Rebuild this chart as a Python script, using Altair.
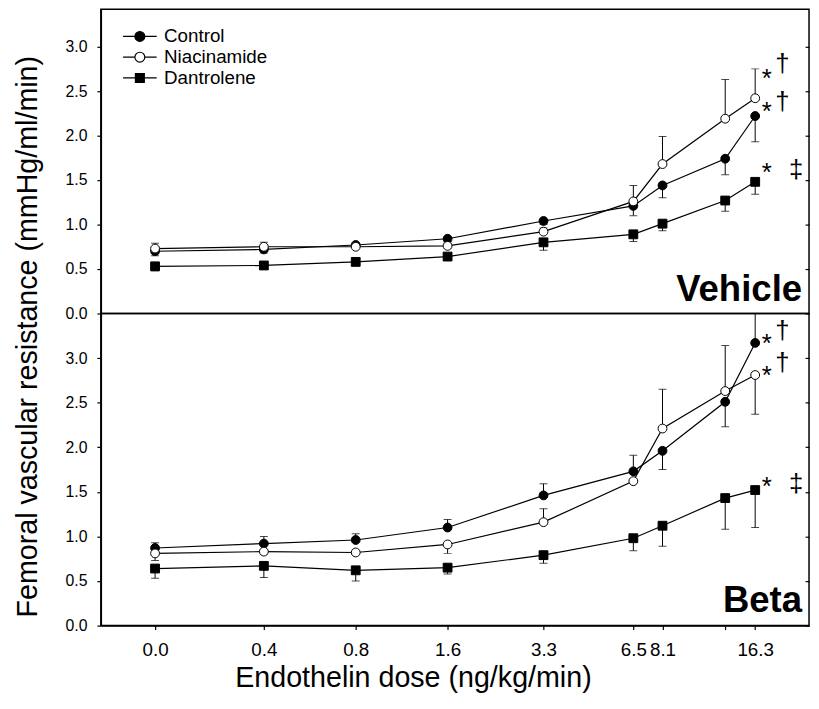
import altair as alt
import pandas as pd

# ---------------- data ----------------
doses = [0.0, 0.4, 0.8, 1.6, 3.3, 6.5, 8.1, 13.0, 16.3]
tick_doses = [0.176, 0.4, 0.8, 1.6, 3.3, 6.5, 8.1, 13.0, 16.3]
groups = ["Control", "Niacinamide", "Dantrolene"]

# Vehicle panel (means and error-bar end values)
veh_control = [0.70, 0.72, 0.77, 0.84, 1.04, 1.21, 1.44, 1.74, 2.22]
veh_control_err = [0.65, 0.68, 0.74, 0.81, 1.00, 1.10, 1.30, 1.56, 1.93]
veh_niacin = [0.73, 0.75, 0.75, 0.76, 0.92, 1.26, 1.68, 2.19, 2.42]
veh_niacin_err = [0.79, 0.80, 0.79, 0.79, 0.96, 1.44, 1.99, 2.63, 2.75]
veh_dantro = [0.53, 0.54, 0.58, 0.64, 0.80, 0.89, 1.01, 1.27, 1.48]
veh_dantro_err = [0.48, 0.50, 0.55, 0.60, 0.71, 0.81, 0.93, 1.15, 1.34]

# Beta panel
beta_control = [0.87, 0.92, 0.96, 1.10, 1.46, 1.73, 1.96, 2.51, 3.17]
beta_control_err = [0.93, 1.00, 1.03, 1.19, 1.59, 1.91, 1.75, 2.23, 3.80]
beta_niacin = [0.81, 0.83, 0.82, 0.91, 1.16, 1.62, 2.21, 2.63, 2.81]
beta_niacin_err = [0.73, 0.80, 0.80, 0.81, 1.31, 1.62, 2.65, 3.14, 2.37]
beta_dantro = [0.64, 0.67, 0.62, 0.65, 0.79, 0.98, 1.12, 1.43, 1.52]
beta_dantro_err = [0.53, 0.54, 0.50, 0.58, 0.70, 0.84, 0.89, 1.08, 1.10]

# significance marks next to the last dose
ann_text = ["*", "\u2020", "*", "\u2020", "*", "\u2021"]
ann_x = [17.8, 20.0, 17.8, 20.0, 17.8, 22.2]
veh_ann_y = [2.55, 2.71, 2.17, 2.29, 1.49, 1.52]
beta_ann_y = [3.07, 3.21, 2.71, 2.85, 1.46, 1.50]

FONT = "Liberation Sans"


def long_df(ctrl, ctrl_e, nia, nia_e, dan, dan_e):
    rows = []
    for g, m, e in [("Control", ctrl, ctrl_e), ("Niacinamide", nia, nia_e),
                    ("Dantrolene", dan, dan_e)]:
        for d, mv, ev in zip(doses, m, e):
            rows.append({"group": g, "dose": d, "mean": mv, "err": ev})
    return pd.DataFrame(rows)


veh_df = long_df(veh_control, veh_control_err, veh_niacin, veh_niacin_err,
                 veh_dantro, veh_dantro_err)
beta_df = long_df(beta_control, beta_control_err, beta_niacin, beta_niacin_err,
                  beta_dantro, beta_dantro_err)
veh_ann = pd.DataFrame({"t": ann_text, "ax": ann_x, "ay": veh_ann_y})
beta_ann = pd.DataFrame({"t": ann_text, "ax": ann_x, "ay": beta_ann_y})
legend_df = pd.DataFrame({"group": groups})

xscale = alt.Scale(type="log", base=2, domain=[0.1169, 24.47], nice=False)

circ = ("M-2.833,0L-0.833,0M0.833,0L2.833,0"
        "M0.833,0A0.833,0.833,0,1,1,-0.833,0A0.833,0.833,0,1,1,0.833,0Z")
sq = ("M-2.833,0L-0.75,0M0.75,0L2.833,0"
      "M-0.75,-0.75L0.75,-0.75L0.75,0.75L-0.75,0.75Z")


def panel(df, ann, top, h, label, label_y, bottom, with_legend):
    if bottom:
        xaxis = alt.Axis(values=tick_doses,
                         labelExpr="datum.value < 0.2 ? '0.0' : (datum.value > 12 && datum.value < 14 ? '' : format(datum.value, '.1f'))",
                         tickSize=4, labelPadding=11, labelFontSize=19,
                         labelOverlap=False, labelBound=False, labelFlush=False,
                         title="Endothelin dose (ng/kg/min)", titleFontSize=29,
                         titleFontWeight="normal", titleX=316, titleY=62,
                         titleBaseline="alphabetic", titleAlign="center")
    else:
        xaxis = None
    X = alt.X("xpos:Q", scale=xscale, axis=xaxis)
    yscale = alt.Scale(domain=[0, top], nice=False, zero=False)
    left_axis = alt.Axis(values=[0, 0.5, 1.0, 1.5, 2.0, 2.5, 3.0], format=".1f",
                         tickSize=4, labelPadding=10, labelFontSize=16,
                         title=("Femoral vascular resistance (mmHg/ml/min)" if not bottom else None),
                         titleFontSize=29, titleFontWeight="normal",
                         titleAngle=-90, titleX=-59, titleY=331,
                         titleAlign="center", titleBaseline="bottom")
    right_axis = alt.Axis(orient="right", values=[0, 0.5, 1.0, 1.5, 2.0, 2.5, 3.0],
                          labels=False, tickSize=4, offset=-4, domain=False, title=None)

    base = alt.Chart(df).transform_calculate(
        xpos="datum.dose == 0 ? 0.176 : datum.dose")

    rules = base.mark_rule(color="black", strokeWidth=1, clip=True).encode(
        x=X, y=alt.Y("mean:Q", scale=yscale, axis=left_axis), y2="err:Q")
    caps = base.mark_tick(color="black", orient="horizontal", size=8,
                          thickness=1, clip=True).encode(
        x=X, y=alt.Y("err:Q", scale=yscale, axis=None))
    lines = base.mark_line(color="black", strokeWidth=1.2).encode(
        x=X, y=alt.Y("mean:Q", scale=yscale, axis=right_axis),
        detail="group:N", order="dose:Q")

    points = base.mark_point(filled=True, size=80, stroke="black",
                             strokeWidth=1, opacity=1).encode(
        x=X, y=alt.Y("mean:Q", scale=yscale, axis=None),
        shape=alt.Shape("group:N", scale=alt.Scale(domain=groups, range=["circle", "circle", "square"]), legend=None),
        fill=alt.Fill("group:N", scale=alt.Scale(domain=groups, range=["black", "white", "black"]), legend=None))

    anns = alt.Chart(ann).mark_text(fontSize=26, font=FONT, color="black",
                                    align="center", baseline="alphabetic").encode(
        x=alt.X("ax:Q", scale=xscale, axis=xaxis),
        y=alt.Y("ay:Q", scale=yscale, axis=None), text="t:N")

    lab = alt.Chart(pd.DataFrame({"t": [label]})).mark_text(
        fontSize=37, font=FONT, fontWeight="bold", align="right",
        baseline="alphabetic", color="black").encode(
        x=alt.value(710), y=alt.value(label_y), text="t:N")

    layers = [rules, caps, lines, points, anns, lab]
    if with_legend:
        leg = alt.Legend(
            title=None, orient="none", legendX=30, legendY=18, padding=0,
            labelFontSize=19, labelFont=FONT, labelOffset=15, symbolSize=144,
            rowPadding=1, labelColor="black", symbolStrokeColor="black",
            symbolStrokeWidth=1.2, symbolOpacity=1)
        legend_layer = alt.Chart(legend_df).transform_filter("false").mark_point(
            filled=False, size=144, strokeWidth=1.2, opacity=1,
            fillOpacity=1).encode(
            shape=alt.Shape("group:N", scale=alt.Scale(domain=groups, range=[circ, circ, sq]), legend=leg),
            fill=alt.Fill("group:N", scale=alt.Scale(domain=groups, range=["black", "white", "black"]), legend=leg),
            stroke=alt.Stroke("group:N", scale=alt.Scale(domain=groups, range=["black", "black", "black"]), legend=leg))
        layers.append(legend_layer)
        out = alt.layer(*layers).resolve_scale(
            y="independent", shape="independent", fill="independent",
            stroke="independent")
    else:
        out = alt.layer(*layers).resolve_scale(y="independent")
    return out.resolve_axis(y="independent").properties(width=717, height=h)


top = panel(veh_df, veh_ann, 3.42, 308, "Vehicle", 295, False, True)
bot = panel(beta_df, beta_ann, 3.5, 316, "Beta", 302, True, False)

chart = alt.vconcat(top, bot, spacing=0, bounds="flush").properties(
    padding={"left": 5, "top": -4, "right": 0, "bottom": 0}
).configure_view(stroke="black", strokeWidth=1.5).configure_axis(
    grid=False, domainColor="black", domainWidth=1.5, tickColor="black",
    tickWidth=1.2, labelColor="black", titleColor="black",
    labelFont=FONT, titleFont=FONT)

chart.save("out.html", embed_options={"renderer": "svg", "actions": False})
